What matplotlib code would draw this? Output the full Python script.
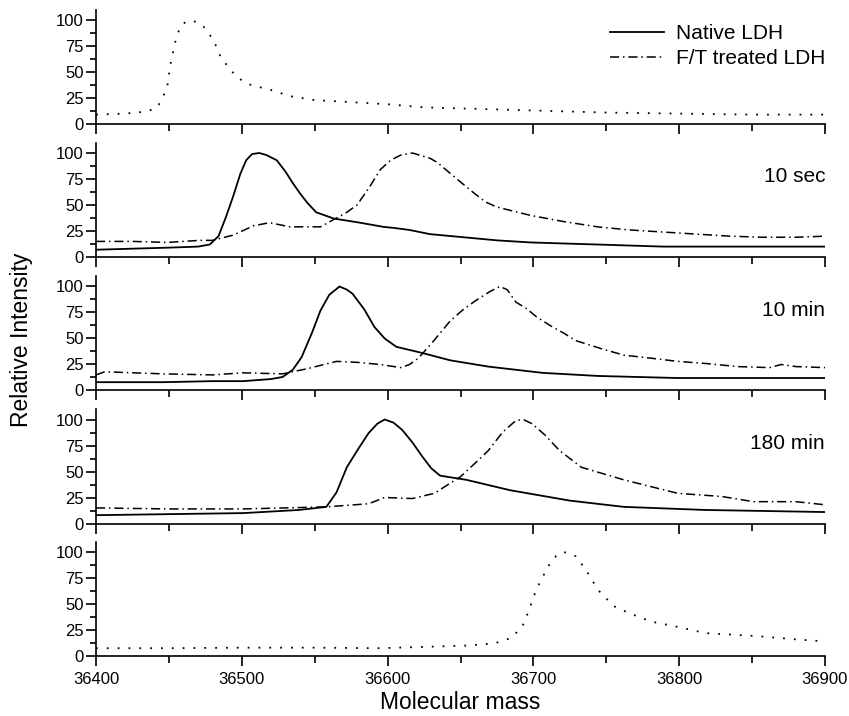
import matplotlib
matplotlib.use("Agg")
import matplotlib.pyplot as plt
from matplotlib.ticker import MultipleLocator

plt.rcParams['font.family'] = ['Liberation Sans', 'DejaVu Sans']

# native LDH reference (top) and F/T reference (bottom), dotted
ref_top_mass = [36400, 36420, 36435, 36442, 36446, 36449, 36451, 36454, 36456, 36459, 36463, 36467,
                36473, 36478, 36482, 36485, 36490, 36496, 36503, 36510, 36517, 36524, 36532, 36550,
                36575, 36600, 36625, 36650, 36700, 36750, 36800, 36850, 36900]
ref_top_int = [9, 10, 12, 16, 26, 37, 57, 77, 87, 96, 99, 99,
               95, 86, 76, 66, 56, 46, 39, 36, 34, 31, 27, 23,
               21, 19, 16, 15, 13, 11, 10, 9, 9]

ref_bot_mass = [36400, 36450, 36501, 36550, 36595, 36630, 36654, 36673, 36684, 36692, 36697, 36702,
                36710, 36716, 36721, 36729, 36736, 36744, 36755, 36766, 36781, 36799, 36818, 36855,
                36880, 36900]
ref_bot_int = [7.5, 7.5, 8, 8, 7.5, 9, 10, 12, 17, 27, 44, 64,
               86, 97, 100, 96, 83, 64, 48, 41, 33, 28, 22, 19,
               16, 14]

# 10 sec
sec10_nat_mass = [36400, 36425, 36450, 36470, 36478, 36484, 36489, 36494, 36499, 36503, 36507, 36512,
                  36517, 36524, 36530, 36535, 36540, 36545, 36551, 36563, 36581, 36597, 36604, 36615,
                  36629, 36652, 36675, 36698, 36744, 36789, 36850, 36900]
sec10_nat_int = [7, 8, 9, 10, 12, 20, 38, 58, 80, 93, 99, 100,
                 98, 93, 82, 71, 61, 52, 43, 37, 33, 29, 28, 26,
                 22, 19, 16, 14, 12, 10, 10, 10]
sec10_ft_mass = [36400, 36425, 36449, 36471, 36480, 36494, 36508, 36519, 36533, 36554, 36563, 36571,
                 36579, 36587, 36595, 36602, 36609, 36617, 36629, 36634, 36645, 36657, 36667, 36675,
                 36698, 36721, 36744, 36766, 36789, 36812, 36835, 36857, 36880, 36900]
sec10_ft_int = [15, 15, 14, 16, 16, 21, 30, 33, 29, 29, 36, 42,
                50, 66, 84, 93, 98, 100, 95, 91, 78, 64, 53, 48,
                40, 34, 29, 26, 24, 22, 20, 19, 19, 20]

# 10 min
min10_nat_mass = [36400, 36446, 36480, 36501, 36520, 36528, 36535, 36541, 36548, 36554, 36560, 36567,
                  36572, 36576, 36584, 36591, 36598, 36606, 36624, 36643, 36669, 36706, 36744, 36799,
                  36855, 36900]
min10_nat_int = [8, 8, 9, 9, 11, 13, 20, 32, 55, 77, 92, 100,
                 97, 93, 78, 61, 50, 42, 36, 29, 23, 17, 14, 12,
                 12, 12]
min10_ft_mass = [36400, 36406, 36446, 36480, 36501, 36528, 36545, 36565, 36580, 36595, 36609, 36615,
                 36621, 36630, 36643, 36652, 36661, 36670, 36677, 36682, 36688, 36695, 36702, 36712,
                 36721, 36729, 36747, 36762, 36781, 36799, 36818, 36840, 36862, 36870, 36880, 36900]
min10_ft_int = [15, 18, 16, 15, 17, 16, 21, 28, 27, 25, 22, 25,
                31, 45, 67, 78, 87, 95, 100, 97, 85, 79, 71, 62,
                55, 48, 40, 34, 31, 28, 26, 23, 22, 25, 23, 22]

# 180 min
min180_nat_mass = [36400, 36450, 36501, 36539, 36558, 36565, 36572, 36580, 36587, 36593, 36598, 36604,
                   36610, 36617, 36624, 36630, 36636, 36654, 36684, 36725, 36762, 36818, 36860, 36900]
min180_nat_int = [8, 9, 10, 13, 16, 30, 54, 72, 87, 96, 100, 97,
                  90, 78, 64, 53, 46, 42, 32, 22, 16, 13, 12, 11]
min180_ft_mass = [36400, 36450, 36501, 36558, 36587, 36598, 36617, 36632, 36641, 36650, 36660, 36669,
                  36679, 36688, 36693, 36699, 36708, 36718, 36733, 36762, 36799, 36829, 36851, 36880,
                  36900]
min180_ft_int = [15, 14, 14, 16, 19, 25, 24, 29, 37, 45, 58, 70,
                 88, 99, 100, 96, 85, 70, 54, 42, 29, 26, 21, 21,
                 18]

panel_labels = ["", "10 sec", "10 min", "180 min", ""]

W, H = 849, 716
fig = plt.figure(figsize=(W / 100, H / 100), dpi=100)

left_px, right_px = 96, 825
zero_px = [124, 257, 390.5, 523.5, 656]
span_px = 104  # pixels from 0 to 100
ytop = 110

axes = []
for z in zero_px:
    h = span_px * ytop / 100
    ax = fig.add_axes([left_px / W, 1 - z / H, (right_px - left_px) / W, h / H])
    ax.set_xlim(36400, 36900)
    ax.set_ylim(0, ytop)
    for s in ['top', 'right']:
        ax.spines[s].set_visible(False)
    for s in ['left', 'bottom']:
        ax.spines[s].set_linewidth(1.2)
    ax.yaxis.set_major_locator(MultipleLocator(25))
    ax.yaxis.set_minor_locator(MultipleLocator(12.5))
    ax.xaxis.set_major_locator(MultipleLocator(100))
    ax.xaxis.set_minor_locator(MultipleLocator(50))
    ax.tick_params(axis='y', which='major', direction='out', length=7, width=1.2, labelsize=12, pad=2)
    ax.tick_params(axis='y', which='minor', direction='out', length=4, width=1.2)
    ax.tick_params(axis='x', which='major', direction='out', length=7.5, width=1.2, labelsize=12, pad=4)
    ax.tick_params(axis='x', which='minor', direction='out', length=5, width=1.2)
    ax.set_yticks([0, 25, 50, 75, 100])
    axes.append(ax)

for ax in axes[:-1]:
    ax.tick_params(axis='x', labelbottom=False)

dot = (0, (1, 5))
dashdot = (0, (6, 2.5, 1, 2.5))

axes[0].plot(ref_top_mass, ref_top_int, color='black', lw=1.3, linestyle=dot)
axes[4].plot(ref_bot_mass, ref_bot_int, color='black', lw=1.3, linestyle=dot)

series = [(sec10_nat_mass, sec10_nat_int, sec10_ft_mass, sec10_ft_int),
          (min10_nat_mass, min10_nat_int, min10_ft_mass, min10_ft_int),
          (min180_nat_mass, min180_nat_int, min180_ft_mass, min180_ft_int)]
handles = None
for ax, (nm, ni, fm, fi) in zip(axes[1:4], series):
    l1, = ax.plot(nm, ni, color='black', lw=1.3, label='Native LDH')
    l2, = ax.plot(fm, fi, color='black', lw=1.1, linestyle=dashdot, label='F/T treated LDH')
    handles = [l1, l2]

for ax, lab in zip(axes, panel_labels):
    if lab:
        ax.text(36900, 77, lab, ha='right', va='center', fontsize=15)

fig.legend(handles=handles, loc='upper left', bbox_to_anchor=(610 / W, 1 - 24 / H),
           frameon=False, fontsize=15, handlelength=2.6, handletextpad=0.55,
           labelspacing=0.3, borderpad=0, borderaxespad=0)

fig.text(22 / W, 1 - 340 / H, 'Relative Intensity', rotation=90, ha='center', va='center', fontsize=16.5)
fig.text((left_px + right_px) / 2 / W, 1 - 709 / H, 'Molecular mass', ha='center', va='baseline', fontsize=16.5)

fig.savefig('out.png', dpi=100)
